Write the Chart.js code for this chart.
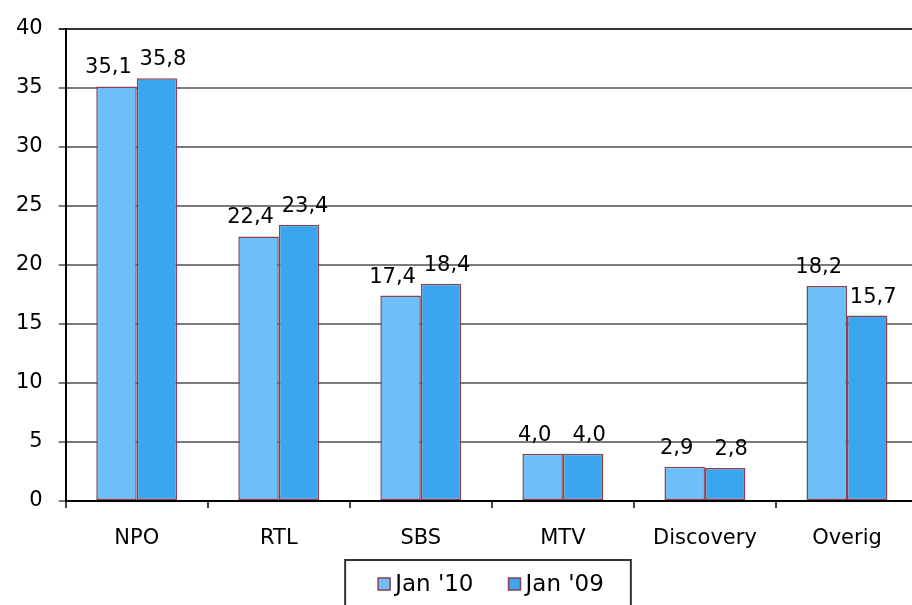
<!DOCTYPE html>
<html>
<head>
<meta charset="utf-8">
<script src="https://cdn.jsdelivr.net/npm/chart.js@4/dist/chart.umd.min.js"></script>
<style>
  html, body { margin: 0; padding: 0; overflow: hidden; background: #fff; }
  #wrap { width: 976px; height: 605px; position: relative; }
</style>
</head>
<body>
<div id="wrap"><canvas id="c"></canvas></div>
<script>
const categories = ['NPO', 'RTL', 'SBS', 'MTV', 'Discovery', 'Overig'];
const seriesNames = ["Jan '10", "Jan '09"];
const jan10 = [35.1, 22.4, 17.4, 4.0, 2.9, 18.2];
const jan09 = [35.8, 23.4, 18.4, 4.0, 2.8, 15.7];
const yTicks = [0, 5, 10, 15, 20, 25, 30, 35, 40];

const FONT = 'DejaVu Sans';
const FS = 21;
const LEGEND_FS = 23;

const dataLabels = {
  id: 'dataLabels',
  afterDatasetsDraw(chart) {
    const ctx = chart.ctx;
    ctx.save();
    ctx.font = FS + 'px "' + FONT + '"';
    ctx.fillStyle = '#000';
    ctx.textAlign = 'center';
    ctx.textBaseline = 'alphabetic';
    chart.data.datasets.forEach((ds, di) => {
      const meta = chart.getDatasetMeta(di);
      const shift = di === 0 ? -8 : 6;
      meta.data.forEach((bar, i) => {
        const txt = ds.data[i].toFixed(1).replace('.', ',');
        ctx.fillText(txt, bar.x + shift, bar.y - 13);
      });
    });
    ctx.restore();
  }
};

// Framed legend drawn below the axis
const framedLegend = {
  id: 'framedLegend',
  afterDraw(chart) {
    const ctx = chart.ctx;
    const ds = chart.data.datasets;
    ctx.save();
    ctx.font = LEGEND_FS + 'px "' + FONT + '"';
    const box = 12, gapBT = 5, gapItems = 35;
    const widths = ds.map(d => box + gapBT + ctx.measureText(d.label).width);
    const total = widths.reduce((a, b) => a + b, 0) + gapItems * (ds.length - 1);
    const cx = chart.width / 2 + 3;
    const cy = chart.chartArea.bottom + 83;
    let x = cx - total / 2;
    ctx.strokeStyle = '#333';
    ctx.lineWidth = 2;
    ctx.strokeRect(x - 33, cy - 24, total + 60, 80);
    ctx.textBaseline = 'middle';
    ctx.textAlign = 'left';
    ds.forEach((d, i) => {
      ctx.fillStyle = d.backgroundColor;
      ctx.fillRect(x, cy - box / 2, box, box);
      ctx.strokeStyle = d.borderColor;
      ctx.lineWidth = 1.5;
      ctx.strokeRect(x, cy - box / 2, box, box);
      ctx.fillStyle = '#000';
      ctx.fillText(d.label, x + box + gapBT, cy + 1);
      x += widths[i] + gapItems;
    });
    ctx.restore();
  }
};

new Chart(document.getElementById('c'), {
  type: 'bar',
  data: {
    labels: categories,
    datasets: [
      { label: seriesNames[0], data: jan10, backgroundColor: '#6EBEF7', borderColor: '#8A4150', borderWidth: 1.5, borderSkipped: false, categoryPercentage: 0.57, barPercentage: 1.0 },
      { label: seriesNames[1], data: jan09, backgroundColor: '#3BA6EE', borderColor: '#8A4150', borderWidth: 1.5, borderSkipped: false, categoryPercentage: 0.57, barPercentage: 1.0 }
    ]
  },
  options: {
    responsive: true,
    maintainAspectRatio: false,
    animation: false,
    layout: { padding: { top: 26, left: 0, right: 58, bottom: 0 } },
    plugins: {
      tooltip: { enabled: false },
      legend: { display: false }
    },
    scales: {
      x: {
        offset: true,
        grid: { display: true, offset: true, drawOnChartArea: false, drawTicks: true, tickLength: 7, color: '#444', lineWidth: 2 },
        border: { display: true, color: '#000', width: 2 },
        ticks: { font: { family: FONT, size: FS }, color: '#000', padding: 18, maxRotation: 0 },
        afterFit: (s) => { s.height = 104; }
      },
      y: {
        min: 0,
        max: 40,
        afterBuildTicks: (s) => { s.ticks = yTicks.map(v => ({ value: v })); },
        grid: {
          color: (c) => (c.tick && c.tick.value === 40 ? '#333' : '#7a7a7a'),
          lineWidth: 2,
          tickLength: 7
        },
        border: { display: true, color: '#000', width: 2 },
        ticks: { font: { family: FONT, size: FS }, color: '#000', padding: 16 }
      }
    }
  },
  plugins: [dataLabels, framedLegend]
});
</script>
</body>
</html>
